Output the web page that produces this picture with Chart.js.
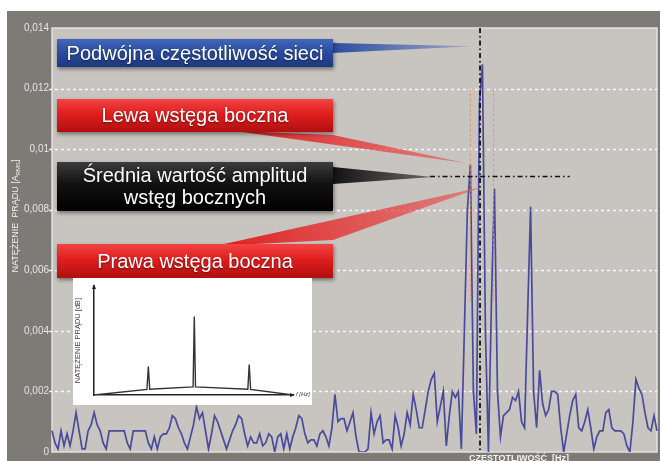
<!DOCTYPE html>
<html>
<head>
<meta charset="utf-8">
<script src="https://cdn.jsdelivr.net/npm/chart.js@4.4.1/dist/chart.umd.min.js"></script>
<style>
html, body { margin: 0; padding: 0; background: #fff; }
#wrap { position: relative; width: 662px; height: 461px; }
#inset { position: absolute; left: 73px; top: 278px; }
</style>
</head>
<body>
<div id="wrap">
  <canvas id="main" width="662" height="461"></canvas>
  <canvas id="inset" width="239" height="127"></canvas>
</div>
<script>
// spectrum amplitude [A rms], one sample per frequency bin
var amplitude = [
  0.0007,0.0003,0.0001,0.0007,0.0002,0.0006,0.0002,0.0007,0.0013,0.0007,
  0.0001,0.0001,0.0007,0.0009,0.0013,0.0009,0.0007,0.0003,0.0001,0.0007,
  0.0007,0.0007,0.0007,0.0007,0.0007,0.0003,0.0001,0.0007,0.0007,0.0007,
  0.0007,0.0007,0.0003,0.0001,0.0005,0.0001,0.0005,0.0006,0.0006,0.0008,
  0.0012,0.0011,0.0008,0.0006,0.0003,0.0001,0.0005,0.0009,0.0015,0.0011,
  0.0013,0.0007,0.0001,0.0006,0.0012,0.0010,0.0007,0.0004,0.0001,0.0004,
  0.0007,0.0009,0.0012,0.0011,0.0006,0.0002,0.0005,0.0003,0.0003,0.0006,
  0.0002,0.0003,0.0006,0.0005,0.0000,0.0005,0.0006,0.0001,0.0006,0.0001,
  0.0005,0.0008,0.0012,0.0011,0.0006,0.0003,0.0004,0.0004,0.0002,0.0006,
  0.0007,0.0005,0.0002,0.0008,0.0019,0.0010,0.0011,0.0011,0.0007,0.0010,
  0.0013,0.0005,0.0000,0.0000,0.0000,0.0001,0.0013,0.0006,0.0010,0.0012,
  0.0003,0.0004,0.0004,0.0001,0.0012,0.0008,0.0002,0.0006,0.0013,0.0009,
  0.0019,0.0014,0.0008,0.0008,0.0014,0.0020,0.0024,0.0026,0.0010,0.0015,
  0.0020,0.0002,0.0012,0.0020,0.0018,0.0020,0.0001,0.0040,0.0080,0.0095,
  0.0020,0.0006,0.0115,0.0128,0.0040,0.0000,0.0050,0.0087,0.0020,0.0005,
  0.0012,0.0013,0.0014,0.0018,0.0017,0.0020,0.0010,0.0008,0.0045,0.0081,
  0.0020,0.0008,0.0027,0.0016,0.0012,0.0014,0.0020,0.0020,0.0019,0.0008,
  0.0000,0.0006,0.0012,0.0017,0.0019,0.0008,0.0007,0.0010,0.0014,0.0008,
  0.0001,0.0005,0.0007,0.0007,0.0013,0.0014,0.0008,0.0007,0.0007,0.0007,
  0.0006,0.0002,0.0000,0.0010,0.0024,0.0021,0.0019,0.0013,0.0008,0.0007,
  0.0012,0.0007
];
var freqBins = amplitude.map(function (v, i) { return i; });

var yTicks = [0, 0.002, 0.004, 0.006, 0.008, 0.01, 0.012, 0.014];

// marker positions (bin index / amplitude)
var supplyBin = 142.2;           // double supply frequency
var sidebandBins = [139, 146.7]; // left and right sideband
var sidebandMean = 0.0091;       // mean of sideband amplitudes
var meanLineBins = [125.6, 172];

// inset: idealised spectrum with sidebands
var insetX = [0, 26.6, 27.3, 28, 49.8, 50.4, 51, 77.3, 78, 78.7, 100];
var insetY = [0, 5.1, 26, 5.3, 7.5, 72, 7.5, 5.3, 28, 5.1, 0];
var insetTickPos = [27.3, 50.4, 78];
var insetTickLabels = ['fs(1-2s)', 'fs', 'fs(1+2s)'];

var FONT = "'Liberation Sans', Arial, sans-serif";

var callouts = [
  { text: ['Podwójna częstotliwość sieci'], x: 57, y: 39, w: 276, h: 28,
    c: ['#4268bb', '#2b4d9e', '#1c377c'], tipColor: 'rgba(70,100,180,0.35)',
    base: [[333, 43], [333, 53]], tip: [139.5, 0.0134] },
  { text: ['Lewa wstęga boczna'], x: 57, y: 99, w: 276, h: 33,
    c: ['#f24444', '#e01e1e', '#b00f0f'], tipColor: 'rgba(235,70,70,0.55)',
    base: [[235, 131], [333, 135]], tip: [137.5, 0.00954] },
  { text: ['Średnia wartość amplitud', 'wstęg bocznych'], x: 57, y: 162, w: 276, h: 49,
    c: ['#3c3c3c', '#111111', '#000000'], tipColor: 'rgba(40,40,40,0.6)',
    base: [[333, 167], [333, 184]], tip: [126.5, 0.00908] },
  { text: ['Prawa wstęga boczna'], x: 57, y: 244, w: 276, h: 34,
    c: ['#f24444', '#e01e1e', '#b00f0f'], tipColor: 'rgba(235,70,70,0.55)',
    base: [[215, 246], [333, 240]], tip: [142.9, 0.00875] }
];

var frame = {
  id: 'frame',
  beforeDraw: function (chart) {
    var ctx = chart.ctx, a = chart.chartArea;
    ctx.save();
    ctx.fillStyle = '#ffffff';
    ctx.fillRect(0, 0, chart.width, chart.height);
    ctx.fillStyle = '#7e7a76';
    ctx.fillRect(7, 11, 653, 450);
    ctx.fillStyle = '#c8c4c0';
    ctx.fillRect(a.left, a.top, a.right - a.left, a.bottom - a.top);
    ctx.strokeStyle = '#e4e2de';
    ctx.lineWidth = 1.5;
    ctx.strokeRect(a.left, a.top, a.right - a.left, a.bottom - a.top);
    ctx.restore();
  },
  beforeDatasetsDraw: function (chart) {
    // dashed white grid at every y tick
    var ctx = chart.ctx, ys = chart.scales.y, a = chart.chartArea;
    ctx.save();
    ctx.strokeStyle = 'rgba(255,255,255,0.9)';
    ctx.lineWidth = 1.5;
    ctx.setLineDash([3, 3]);
    yTicks.forEach(function (v, k) {
      if (k === 0 || k === yTicks.length - 1) return;
      var y = Math.round(ys.getPixelForValue(v)) + 0.5;
      ctx.beginPath();
      ctx.moveTo(a.left - 3, y);
      ctx.lineTo(a.right, y);
      ctx.stroke();
    });
    ctx.restore();
  }
};

function wedge(ctx, c) {
  var p0 = c.base[0], p1 = c.base[1], t = c.tipPx;
  var g = ctx.createLinearGradient(p0[0], p0[1], t[0], t[1]);
  g.addColorStop(0, c.c[1]);
  g.addColorStop(1, c.tipColor);
  ctx.fillStyle = g;
  ctx.beginPath();
  ctx.moveTo(p0[0], p0[1]);
  ctx.lineTo(t[0], t[1]);
  ctx.lineTo(p1[0], p1[1]);
  ctx.closePath();
  ctx.fill();
}

function box(ctx, c) {
  ctx.save();
  ctx.shadowColor = 'rgba(0,0,0,0.45)';
  ctx.shadowBlur = 4;
  ctx.shadowOffsetX = 1;
  ctx.shadowOffsetY = 2;
  var g = ctx.createLinearGradient(0, c.y, 0, c.y + c.h);
  g.addColorStop(0, c.c[0]);
  g.addColorStop(0.45, c.c[1]);
  g.addColorStop(1, c.c[2]);
  ctx.fillStyle = g;
  ctx.fillRect(c.x, c.y, c.w, c.h);
  ctx.restore();

  ctx.save();
  ctx.font = '20px ' + FONT;
  ctx.fillStyle = '#ffffff';
  ctx.textAlign = 'center';
  ctx.textBaseline = 'middle';
  ctx.shadowColor = 'rgba(0,0,0,0.5)';
  ctx.shadowBlur = 2;
  ctx.shadowOffsetY = 1;
  var n = c.text.length, lh = 22;
  c.text.forEach(function (s, k) {
    var cy = c.y + c.h / 2 + (k - (n - 1) / 2) * lh + 1;
    ctx.fillText(s, c.x + c.w / 2, cy);
  });
  ctx.restore();
}

var overlay = {
  id: 'overlay',
  afterDatasetsDraw: function (chart) {
    var ctx = chart.ctx, xs = chart.scales.x, ys = chart.scales.y, a = chart.chartArea;
    ctx.save();
    // sideband guides
    ctx.strokeStyle = 'rgba(235,140,90,0.85)';
    ctx.lineWidth = 1;
    ctx.setLineDash([3, 2]);
    sidebandBins.forEach(function (b) {
      var x = xs.getPixelForValue(b);
      ctx.beginPath();
      ctx.moveTo(x, ys.getPixelForValue(0.012));
      ctx.lineTo(x, ys.getPixelForValue(0.005));
      ctx.stroke();
    });
    // supply frequency marker
    ctx.strokeStyle = '#111';
    ctx.lineWidth = 1.8;
    ctx.setLineDash([5, 3, 1.5, 3]);
    var sx = xs.getPixelForValue(supplyBin);
    ctx.beginPath();
    ctx.moveTo(sx, a.top);
    ctx.lineTo(sx, a.bottom);
    ctx.stroke();
    // mean sideband amplitude
    var my = ys.getPixelForValue(sidebandMean);
    ctx.lineWidth = 1.5;
    ctx.beginPath();
    ctx.moveTo(xs.getPixelForValue(meanLineBins[0]), my);
    ctx.lineTo(xs.getPixelForValue(meanLineBins[1]), my);
    ctx.stroke();
    ctx.setLineDash([]);

    callouts.forEach(function (c) {
      c.tipPx = [xs.getPixelForValue(c.tip[0]), ys.getPixelForValue(c.tip[1])];
      wedge(ctx, c);
    });
    callouts.forEach(function (c) { box(ctx, c); });

    // axis titles
    ctx.fillStyle = '#f2f2f2';
    ctx.textBaseline = 'middle';
    ctx.translate(16, 216);
    ctx.rotate(-Math.PI / 2);
    var main = 'NATĘŻENIE  PRĄDU [A', sub = 'RMS', end = ']';
    ctx.font = '9px ' + FONT;
    var w1 = ctx.measureText(main).width, w3 = ctx.measureText(end).width;
    ctx.font = '6px ' + FONT;
    var w2 = ctx.measureText(sub).width;
    var x0 = -(w1 + w2 + w3) / 2;
    ctx.font = '9px ' + FONT;
    ctx.fillText(main, x0, 0);
    ctx.font = '6px ' + FONT;
    ctx.fillText(sub, x0 + w1, 2);
    ctx.font = '9px ' + FONT;
    ctx.fillText(end, x0 + w1 + w2, 0);
    ctx.setTransform(1, 0, 0, 1, 0, 0);

    ctx.font = 'bold 9px ' + FONT;
    ctx.textAlign = 'center';
    ctx.textBaseline = 'top';
    ctx.fillText('CZĘSTOTLIWOŚĆ  [Hz]', 519, 454);
    ctx.restore();
  }
};

new Chart(document.getElementById('main'), {
  type: 'line',
  data: {
    labels: freqBins,
    datasets: [{
      data: amplitude,
      borderColor: '#4a4a9c',
      borderWidth: 1.7,
      pointRadius: 0,
      tension: 0
    }]
  },
  options: {
    responsive: false,
    animation: false,
    layout: { padding: { top: 28, right: 5, bottom: 9, left: 0 } },
    plugins: { legend: { display: false }, tooltip: { enabled: false } },
    scales: {
      x: { display: false },
      y: {
        min: 0,
        max: 0.014,
        afterBuildTicks: function (s) { s.ticks = yTicks.map(function (v) { return { value: v }; }); },
        afterFit: function (s) { s.width = 52; },
        border: { display: false },
        grid: { display: false, drawTicks: false },
        ticks: {
          color: '#e6e6e6',
          font: { size: 10, family: FONT },
          padding: 3,
          callback: function (v) { return v === 0 ? '0' : String(+v.toFixed(3)).replace('.', ','); }
        }
      }
    }
  },
  plugins: [frame, overlay]
});

var insetDeco = {
  id: 'insetDeco',
  beforeDraw: function (chart) {
    var ctx = chart.ctx;
    ctx.save();
    ctx.fillStyle = '#ffffff';
    ctx.fillRect(0, 0, chart.width, chart.height);
    ctx.restore();
  },
  afterDraw: function (chart) {
    var ctx = chart.ctx, a = chart.chartArea;
    ctx.save();
    ctx.fillStyle = '#222';
    ctx.beginPath();
    ctx.moveTo(a.left - 2, a.top + 3);
    ctx.lineTo(a.left, a.top - 2);
    ctx.lineTo(a.left + 2, a.top + 3);
    ctx.fill();
    ctx.beginPath();
    ctx.moveTo(a.right - 3, a.bottom - 2);
    ctx.lineTo(a.right + 2, a.bottom);
    ctx.lineTo(a.right - 3, a.bottom + 2);
    ctx.fill();
    ctx.fillStyle = '#444';
    ctx.font = 'italic 6px ' + FONT;
    ctx.textBaseline = 'middle';
    ctx.fillText('f [Hz]', a.right + 3, a.bottom - 1);
    ctx.restore();
  }
};

new Chart(document.getElementById('inset'), {
  type: 'line',
  data: {
    datasets: [{
      data: insetX.map(function (x, i) { return { x: x, y: insetY[i] }; }),
      borderColor: '#333',
      borderWidth: 1.4,
      pointRadius: 0,
      tension: 0
    }]
  },
  options: {
    responsive: false,
    animation: false,
    layout: { padding: { left: 0, top: 8, right: 19, bottom: 0 } },
    plugins: { legend: { display: false }, tooltip: { enabled: false } },
    scales: {
      x: {
        type: 'linear', min: 0, max: 100,
        grid: { display: false },
        border: { color: '#222', width: 1.5 },
        afterBuildTicks: function (s) { s.ticks = insetTickPos.map(function (v) { return { value: v }; }); },
        afterFit: function (s) { s.height = 10; },
        ticks: {
          autoSkip: false, maxRotation: 0, padding: 1, color: '#555',
          font: { size: 6.5, style: 'italic', family: FONT },
          callback: function (v, i) { return insetTickLabels[i]; }
        }
      },
      y: {
        min: 0, max: 100,
        grid: { display: false },
        border: { color: '#222', width: 1.5 },
        ticks: { display: false },
        afterFit: function (s) { s.width = 21; },
        title: { display: true, text: 'NATĘŻENIE PRĄDU [dB]', color: '#444', padding: 0, font: { size: 7.5, family: FONT } }
      }
    }
  },
  plugins: [insetDeco]
});
</script>
</body>
</html>
